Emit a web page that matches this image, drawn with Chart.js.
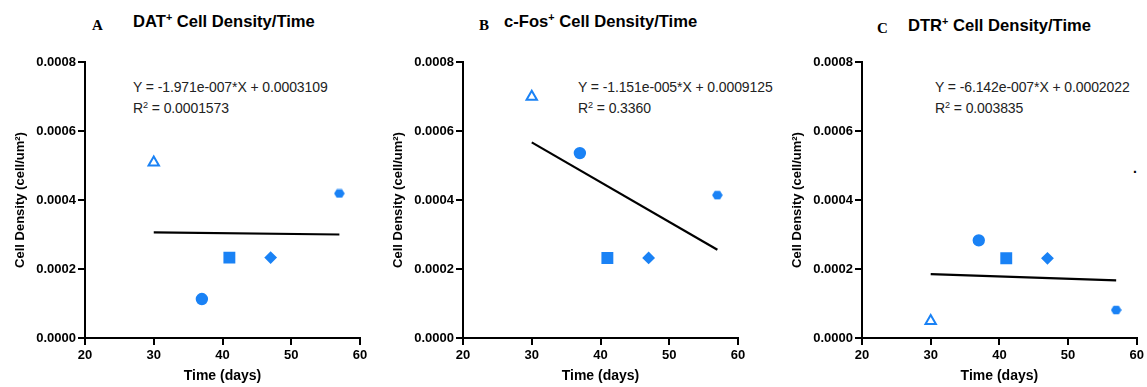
<!DOCTYPE html>
<html>
<head>
<meta charset="utf-8">
<script src="https://cdn.jsdelivr.net/npm/chart.js@4"></script>
<style>
  body { margin: 0; background: #fff; width: 1147px; height: 387px; position: relative; overflow: hidden; font-family: "Liberation Sans", Arial, sans-serif; }
  canvas { position: absolute; top: 0; }
  .lbl { position: absolute; font-family: "Liberation Serif", "Times New Roman", serif; font-weight: bold; font-size: 15px; line-height: 15px; }
  .ttl { position: absolute; font-weight: bold; font-size: 16.6px; line-height: 16px; white-space: nowrap; }
  .eq { position: absolute; font-size: 14px; line-height: 21px; white-space: nowrap; color: #222; letter-spacing: -0.1px; }
  sup { font-size: 0.65em; line-height: 0; vertical-align: 0.55em; }
</style>
</head>
<body>
<div class="lbl" style="left:92px;top:18px">A</div>
<div class="ttl" style="left:133px;top:14px">DAT<sup>+</sup> Cell Density/Time</div>
<div class="eq" style="left:133px;top:77px">Y = -1.971e-007*X + 0.0003109<br>R<sup>2</sup> = 0.0001573</div>

<div class="lbl" style="left:479px;top:18px">B</div>
<div class="ttl" style="left:504px;top:14px">c-Fos<sup>+</sup> Cell Density/Time</div>
<div class="eq" style="left:578px;top:77px">Y = -1.151e-005*X + 0.0009125<br>R<sup>2</sup> = 0.3360</div>

<div class="lbl" style="left:877px;top:21px">C</div>
<div class="ttl" style="left:908px;top:18px">DTR<sup>+</sup> Cell Density/Time</div>
<div class="eq" style="left:935px;top:77px">Y = -6.142e-007*X + 0.0002022<br>R<sup>2</sup> = 0.003835</div>

<div style="position:absolute;left:1133px;top:160px;font-size:14px;font-weight:bold">.</div>

<canvas id="chartA" width="380" height="387" style="left:0px"></canvas>
<canvas id="chartB" width="375" height="387" style="left:385px"></canvas>
<canvas id="chartC" width="371" height="387" style="left:776px"></canvas>

<script>
// values
const days = [30, 37, 41, 47, 57];
const datDensity = [0.000509, 0.000113, 0.000233, 0.000233, 0.000419];
const fosDensity = [0.000699, 0.000536, 0.000232, 0.000232, 0.000414];
const dtrDensity = [0.000049, 0.000283, 0.000231, 0.000231, 0.000081];
const fitDays = [30, 57];
const datFit = [0.000306, 0.0003];
const fosFit = [0.000567, 0.000256];
const dtrFit = [0.000185, 0.000167];
const yTicks = [0, 0.0002, 0.0004, 0.0006, 0.0008];
const xTicks = [20, 30, 40, 50, 60];

const blue = '#1a82f5';
Chart.defaults.font.family = '"Liberation Sans", Arial, sans-serif';
Chart.defaults.color = '#000';

// hexagon marker (no built-in hexagon style)
const hex = document.createElement('canvas');
hex.width = 11; hex.height = 10;
(function () {
  const c = hex.getContext('2d');
  c.fillStyle = blue;
  c.beginPath();
  for (let i = 0; i < 6; i++) {
    const a = Math.PI / 3 * i;
    const px = 5.5 + 5.3 * Math.cos(a), py = 5 + 4.8 * Math.sin(a);
    if (i == 0) c.moveTo(px, py); else c.lineTo(px, py);
  }
  c.closePath();
  c.fill();
})();

const styles = ['triangle', 'circle', 'rect', 'rectRot', hex];
const radii = [6, 5.2, 7, 5, 5];
const fills = ['#fff', blue, blue, blue, blue];

const makeChart = (id, values, fit, padLeft, padRight) => {
  const pts = days.map((d, i) => ({ x: d, y: values[i] }));
  const line = fitDays.map((d, i) => ({ x: d, y: fit[i] }));
  return new Chart(document.getElementById(id), {
    type: 'scatter',
    data: {
      datasets: [{
        data: pts,
        pointStyle: styles,
        pointRadius: radii,
        backgroundColor: fills,
        borderColor: blue,
        borderWidth: 2
      }, {
        type: 'line',
        data: line,
        borderColor: '#000',
        borderWidth: 2.2,
        pointRadius: 0,
        fill: false
      }]
    },
    options: {
      responsive: false,
      animation: false,
      layout: { padding: { left: padLeft, right: padRight, top: 62, bottom: 0 } },
      plugins: { legend: { display: false }, tooltip: { enabled: false } },
      scales: {
        x: {
          type: 'linear', min: 20, max: 60,
          afterBuildTicks: s => { s.ticks = xTicks.map(v => ({ value: v })); },
          afterFit: s => { s.height = 49; },
          ticks: { font: { size: 13, weight: 'bold' }, padding: 3 },
          grid: { drawOnChartArea: false, color: '#000', lineWidth: 2, tickLength: 7 },
          border: { color: '#000', width: 2 },
          title: { display: true, text: 'Time (days)', font: { size: 14, weight: 'bold' }, padding: { top: 4, bottom: 2 } }
        },
        y: {
          min: 0, max: 0.0008,
          afterBuildTicks: s => { s.ticks = yTicks.map(v => ({ value: v })); },
          afterFit: s => { s.width = 76; },
          ticks: { font: { size: 13, weight: 'bold' }, padding: 2, callback: v => v.toFixed(4) },
          grid: { drawOnChartArea: false, color: '#000', lineWidth: 2, tickLength: 7 },
          border: { color: '#000', width: 2 },
          title: { display: true, text: 'Cell Density (cell/um²)', font: { size: 13, weight: 'bold' }, padding: { top: 4, bottom: 4 } }
        }
      }
    }
  });
};

makeChart('chartA', datDensity, datFit, 9, 20);
makeChart('chartB', fosDensity, fosFit, 2, 22);
makeChart('chartC', dtrDensity, dtrFit, 10, 10);
</script>
</body>
</html>
